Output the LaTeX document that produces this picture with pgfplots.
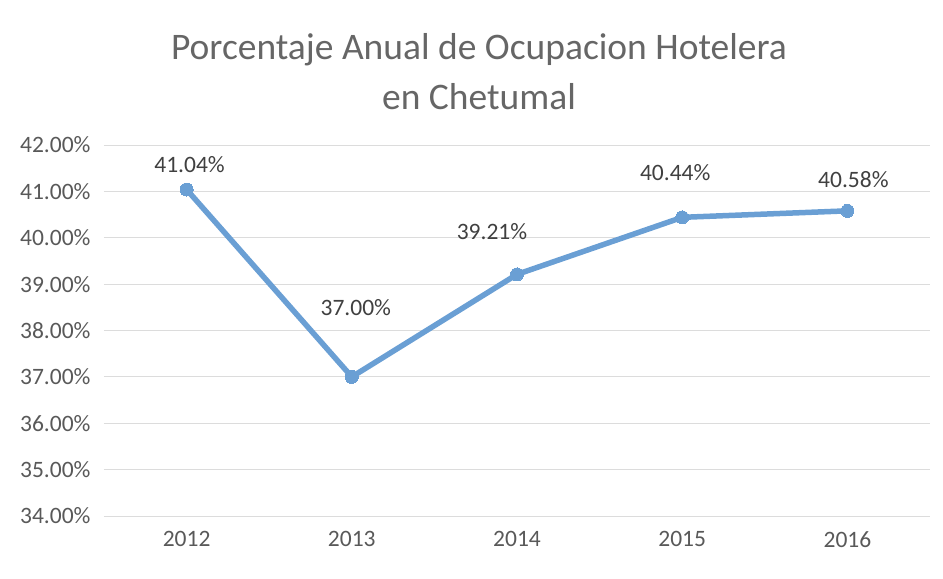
\documentclass[border=0pt]{standalone}
\usepackage{fontspec}
\setmainfont{Carlito}
\usepackage{pgfplots}
\pgfplotsset{compat=1.18}
\usepackage{pgfplotstable}

\definecolor{linecol}{HTML}{6A9FD4}
\definecolor{gridcol}{HTML}{DCDCDC}
\definecolor{txtcol}{HTML}{595959}
\definecolor{ttlcol}{HTML}{666666}
\definecolor{lblcol}{HTML}{404040}

% year index, value, label offsets (pt)
\pgfplotstableread{
x  y      dx   dy
0  41.04  3    25
1  37.00  4    69
2  39.21  -25  43
3  40.44  -7   45
4  40.58  6    31
}\datatable

\begin{document}
\begin{tikzpicture}
\begin{axis}[
    scale only axis,
    width=826pt, height=371pt,
    xmin=-0.5, xmax=4.5,
    ymin=34, ymax=42,
    ytick={34,35,...,42},
    xtick={0,1,2,3,4},
    xticklabels={2012,2013,2014,2015,2016},
    ymajorgrids,
    grid style={gridcol, line width=0.8pt},
    axis line style={draw=none},
    major tick length=0pt,
    tick label style={font=\fontsize{23.5}{26}\selectfont, text=txtcol},
    /pgf/number format/assume math mode=true,
    yticklabel={\pgfmathprintnumber[fixed,fixed zerofill,precision=2]{\tick}\%},
    yticklabel style={xshift=-10pt},
    xticklabel style={yshift=-12pt},
    clip=false,
]
\addplot[linecol, line width=5.5pt, mark=*, mark size=6.5pt,
    mark options={fill=linecol, draw=linecol, line width=0pt},
    visualization depends on={\thisrow{dx} \as \dx},
    visualization depends on={\thisrow{dy} \as \dy},
    nodes near coords={\pgfmathprintnumber[fixed,fixed zerofill,precision=2]{\pgfplotspointmeta}\%},
    point meta=y,
    nodes near coords style={font=\fontsize{23.5}{26}\selectfont, text=lblcol,
        anchor=center, xshift=\dx pt, yshift=\dy pt},
] table[x=x, y=y] {\datatable};
\coordinate (ll) at (rel axis cs:0,0);
\coordinate (ur) at (rel axis cs:1,1);
\coordinate (tc) at (rel axis cs:0.5,1);
\end{axis}
\pgfresetboundingbox
\path ([xshift=-104pt, yshift=-63pt]ll) rectangle ([xshift=13pt, yshift=145pt]ur);
\node[text=ttlcol, font=\fontsize{37.5}{50}\selectfont, align=center, anchor=center]
    at ([xshift=-38pt, yshift=73pt]tc) {Porcentaje Anual de Ocupacion Hotelera\\en Chetumal};
\end{tikzpicture}
\end{document}
